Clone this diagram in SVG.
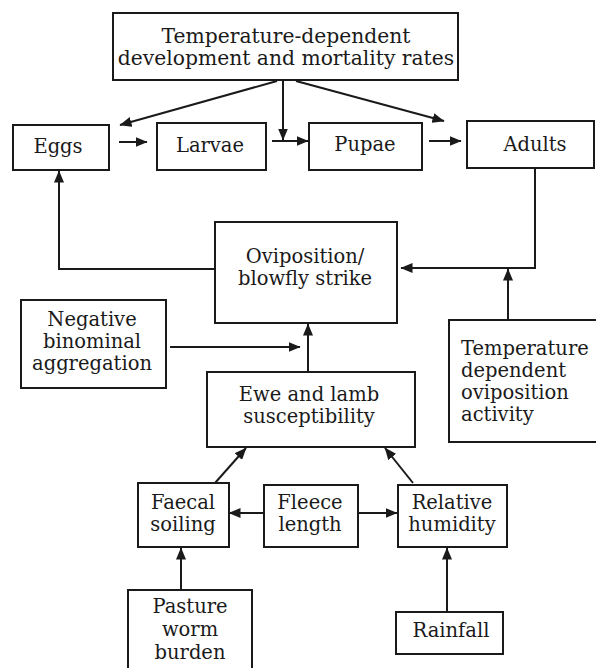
<svg xmlns="http://www.w3.org/2000/svg" width="596" height="668" viewBox="0 0 596 668">
<style>
rect.box{fill:#fff;stroke:#1a1a1a;stroke-width:2}
text{font-family:"DejaVu Serif","Liberation Serif",serif;font-size:19.5px;fill:#1a1a1a;text-anchor:middle}
text.l{text-anchor:start}
text.t{font-size:20.3px}
.c path{fill:none;stroke:#1a1a1a;stroke-width:2;marker-end:url(#ah)}
</style>
<defs>
<marker id="ah" markerUnits="userSpaceOnUse" markerWidth="13" markerHeight="10" refX="11.5" refY="5" orient="auto">
<path d="M0,0 L12,5 L0,10 z" fill="#1a1a1a"/>
</marker>
</defs>
<rect width="596" height="668" fill="#fff"/>
<g id="tdmr"><rect class="box" x="113" y="13" width="345" height="67"/>
<text class="t" x="286" y="43">Temperature-dependent</text><text class="t" x="286" y="65">development and mortality rates</text></g>
<g id="eggs"><rect class="box" x="13" y="125" width="96" height="45"/><text x="58" y="153">Eggs</text></g>
<g id="larvae"><rect class="box" x="157" y="123" width="109" height="47"/><text x="210" y="152">Larvae</text></g>
<g id="pupae"><rect class="box" x="309" y="123" width="113" height="47"/><text x="365" y="151">Pupae</text></g>
<g id="adults"><rect class="box" x="467" y="121" width="127" height="47"/><text x="535" y="151">Adults</text></g>
<g id="ovip"><rect class="box" x="215" y="222" width="182" height="101"/><text x="305" y="263">Oviposition/</text><text x="305" y="285">blowfly strike</text></g>
<g id="negbin"><rect class="box" x="21" y="300" width="145" height="88"/><text x="92" y="326">Negative</text><text x="92" y="348">binominal</text><text x="92" y="370">aggregation</text></g>
<g id="tdoa"><rect class="box" x="449" y="320" width="160" height="122"/><text class="l" x="461" y="355">Temperature</text><text class="l" x="461" y="377">dependent</text><text class="l" x="461" y="399">oviposition</text><text class="l" x="461" y="421">activity</text></g>
<g id="ewe"><rect class="box" x="207" y="372" width="208" height="75"/><text x="309" y="401">Ewe and lamb</text><text x="309" y="423">susceptibility</text></g>
<g id="faecal"><rect class="box" x="138" y="483" width="91" height="64"/><text x="183" y="509">Faecal</text><text x="183" y="531">soiling</text></g>
<g id="fleece"><rect class="box" x="264" y="485" width="94" height="62"/><text x="310" y="509">Fleece</text><text x="310" y="531">length</text></g>
<g id="rh"><rect class="box" x="398" y="485" width="109" height="62"/><text x="452" y="509">Relative</text><text x="452" y="531">humidity</text></g>
<g id="pasture"><rect class="box" x="128" y="590" width="124" height="90"/><text x="190" y="613">Pasture</text><text x="190" y="636">worm</text><text x="190" y="659">burden</text></g>
<g id="rain"><rect class="box" x="396" y="612" width="107" height="42"/><text x="451" y="637">Rainfall</text></g>
<g class="c" id="connectors">
<path d="M277,81 L120,125"/>
<path d="M283,80 V140"/>
<path d="M296,81 L444,121"/>
<path d="M119,142 H147"/>
<path d="M272,141 H308"/>
<path d="M429,141 H461"/>
<path d="M215,269 H59 V171"/>
<path d="M535,168 V268 H401"/>
<path d="M508,320 V269"/>
<path d="M170,347 H300"/>
<path d="M308,372 V324"/>
<path d="M215,483 L246,448"/>
<path d="M413,483 L385,448"/>
<path d="M264,513 H229"/>
<path d="M358,513 H397"/>
<path d="M181,590 V548"/>
<path d="M447,612 V548"/>
</g>
</svg>
